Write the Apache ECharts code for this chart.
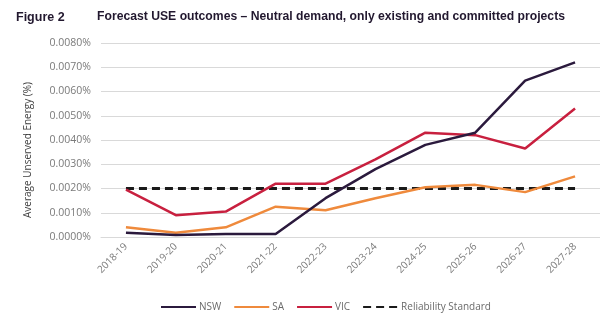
<!DOCTYPE html>
<html><head><meta charset="utf-8">
<script src="https://cdn.jsdelivr.net/npm/echarts@6/dist/echarts.min.js"></script>
<style>html,body{margin:0;padding:0;background:#fff}#c{width:600px;height:328px}</style>
</head><body><div id="c"></div>
<script>
const categories = ['2018-19','2019-20','2020-21','2021-22','2022-23','2023-24','2024-25','2025-26','2026-27','2027-28'];
const nsw = [0.00018,0.00008,0.00012,0.00012,0.0016,0.0028,0.0038,0.0043,0.00645,0.0072];
const sa  = [0.0004,0.00018,0.0004,0.00125,0.0011,0.0016,0.00205,0.00215,0.00185,0.0025];
const vic = [0.00195,0.0009,0.00105,0.0022,0.0022,0.0032,0.0043,0.0042,0.00365,0.0053];
const reliability = [0.002,0.002,0.002,0.002,0.002,0.002,0.002,0.002,0.002,0.002];
const yTicks = {min:0, max:0.008, interval:0.001};

const chart = echarts.init(document.getElementById('c'), null, {renderer:'canvas'});
const lbl = {fontFamily:'Open Sans', fontSize:10, color:'#7a7a7a'};
chart.setOption({
  animation:false,
  title:[
    {text:'Figure 2', left:11, top:6, textStyle:{fontFamily:'Liberation Sans', fontWeight:'bold', fontSize:12.5, color:'#22182f'}},
    {text:'Forecast USE outcomes \u2013 Neutral demand, only existing and committed projects', left:92, top:6, textStyle:{fontFamily:'Liberation Sans', fontWeight:'bold', fontSize:12.2, color:'#22182f'}}
  ],
  grid:{left:101, right:-14, top:43, bottom:91, containLabel:false},
  legend:{
    left:155, top:297, itemWidth:35, itemHeight:8, itemGap:12,
    itemStyle:{opacity:0, borderWidth:0},
    textStyle:{fontFamily:'Open Sans', fontSize:10, color:'#6a6a6a', padding:[0,0,0,-2]},
    data:['NSW','SA','VIC','Reliability Standard']
  },
  xAxis:{
    type:'category', data:categories, boundaryGap:true,
    axisLine:{show:true, lineStyle:{color:'#d9d9d9'}}, axisTick:{show:false},
    axisLabel:{...lbl, rotate:45, margin:8, interval:0}
  },
  yAxis:{
    type:'value', min:yTicks.min, max:yTicks.max, interval:yTicks.interval,
    name:'Average Unserved Energy (%)', nameLocation:'middle', nameGap:68,
    nameTextStyle:{fontFamily:'Open Sans', fontSize:10, color:'#404040', padding:[0,20,0,0]},
    axisLine:{show:false}, axisTick:{show:false},
    axisLabel:{...lbl, fontSize:10.5, margin:10, formatter:v=>v.toFixed(4)+'%'},
    splitLine:{lineStyle:{color:'#d9d9d9', width:1}}
  },
  series:[
    {name:'NSW', type:'line', data:nsw, symbol:'none', lineStyle:{color:'#2b1a3d', width:2.5}, itemStyle:{color:'#2b1a3d'}, z:4},
    {name:'SA', type:'line', data:sa, symbol:'none', lineStyle:{color:'#ef8a3c', width:2.5}, itemStyle:{color:'#ef8a3c'}, z:3},
    {name:'VIC', type:'line', data:vic, symbol:'none', lineStyle:{color:'#c8203f', width:2.5}, itemStyle:{color:'#c8203f'}, z:3},
    {name:'Reliability Standard', type:'line', data:reliability, symbol:'none', lineStyle:{color:'#1a1a1a', width:3, type:[8,5]}, itemStyle:{color:'#1a1a1a'}, z:2}
  ]
});
</script></body></html>
